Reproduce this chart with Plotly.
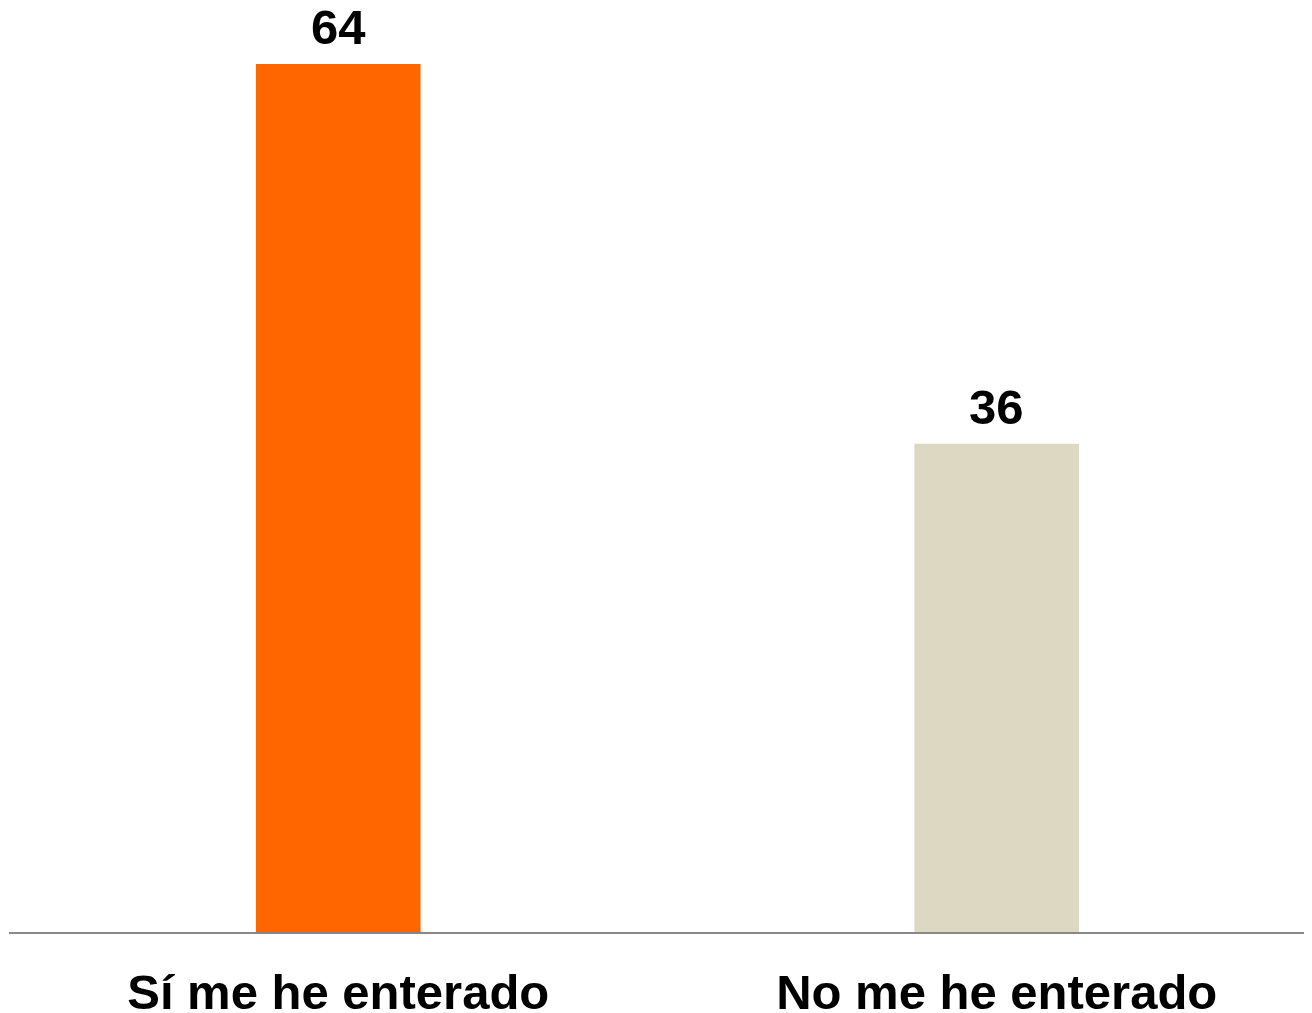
import plotly.graph_objects as go

categories = ["Sí me he enterado", "No me he enterado"]
values = [64, 36]
colors = ["#FF6600", "#DDD8C2"]

fig = go.Figure()
fig.add_trace(go.Bar(
    x=categories, y=values, marker=dict(color=colors, line=dict(width=0)),
    width=0.25, showlegend=False, hoverinfo="skip",
))
for c, v in zip(categories, values):
    fig.add_annotation(x=c, y=v, text=f"<b>{v}</b>", showarrow=False,
                       yanchor="bottom", yshift=8,
                       font=dict(family="Liberation Sans, Arial", size=49, color="#000"))

fig.update_layout(
    width=1312, height=1013,
    margin=dict(l=1, r=0, t=0, b=89),
    plot_bgcolor="white", paper_bgcolor="white",
    xaxis=dict(range=[-0.5, 1.491], showline=True, linecolor="#888888", linewidth=2,
               ticks="", showgrid=False, ticklabelstandoff=16,
               tickfont=dict(family="Liberation Sans, Arial", size=49, color="#000")),
    yaxis=dict(range=[0, 68.13], visible=False, showgrid=False),
)
fig.update_xaxes(tickvals=categories, ticktext=[f"<b>{c}</b>" for c in categories])
fig.write_html("out.html")
